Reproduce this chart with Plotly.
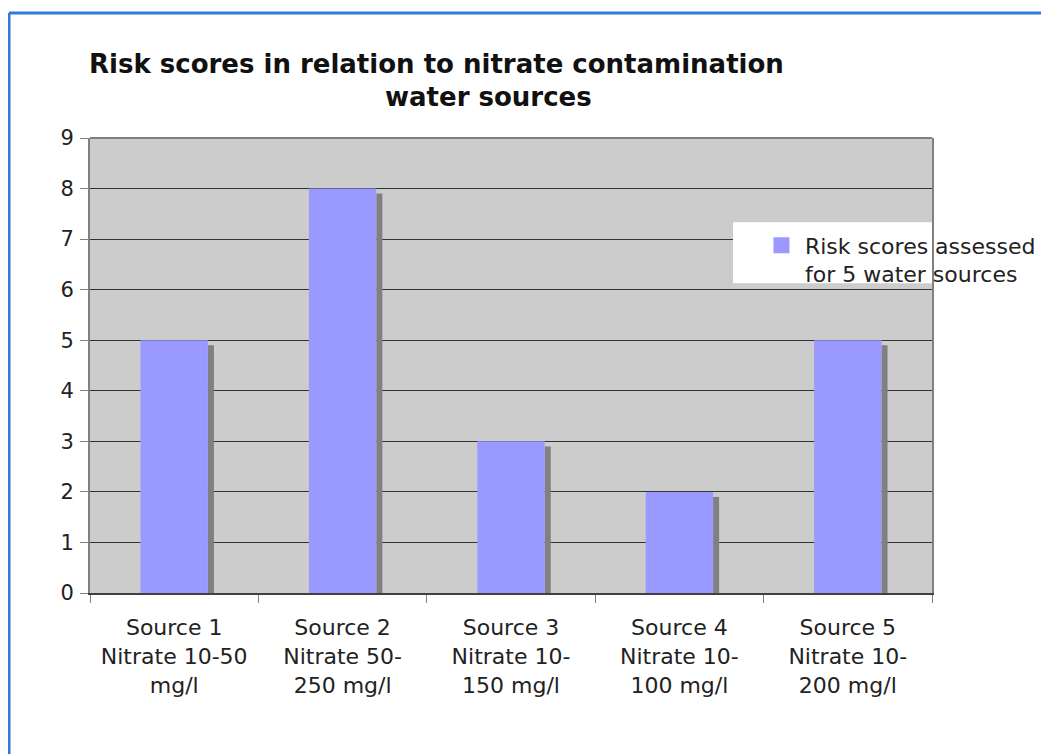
import plotly.graph_objects as go

categories = [
    "Source 1<br>Nitrate 10-50<br>mg/l",
    "Source 2<br>Nitrate 50-<br>250 mg/l",
    "Source 3<br>Nitrate 10-<br>150 mg/l",
    "Source 4<br>Nitrate 10-<br>100 mg/l",
    "Source 5<br>Nitrate 10-<br>200 mg/l",
]
risk_scores = [5, 8, 3, 2, 5]
series_name = "Risk scores assessed<br>for 5 water sources"
title_line1 = "Risk scores in relation to nitrate contamination"
title_line2 = "water sources"

FONT = "Verdana, DejaVu Sans, sans-serif"
BAR_COLOR = "#9999FF"
shadow_drop = 0.1

fig = go.Figure()
# shadow
fig.add_trace(go.Bar(
    x=categories, y=[v - shadow_drop for v in risk_scores],
    width=0.036, offset=0.2,
    marker=dict(color="#808080", line=dict(width=0)),
    showlegend=False, hoverinfo="skip",
))
fig.add_trace(go.Bar(
    x=categories, y=risk_scores, name=series_name,
    width=0.4, offset=-0.2,
    marker=dict(color=BAR_COLOR, line=dict(width=0)),
    showlegend=False,
))
# legend entry (square swatch)
fig.add_trace(go.Scatter(
    x=[None], y=[None], mode="markers", name=series_name,
    marker=dict(symbol="square", size=16, color=BAR_COLOR),
    showlegend=True, hoverinfo="skip",
))

fig.update_layout(
    width=1049, height=754,
    margin=dict(l=82, r=125, t=130, b=169),
    paper_bgcolor="white",
    plot_bgcolor="#CCCCCC",
    barmode="overlay",
    font=dict(family=FONT, color="#222222"),
    showlegend=True,
    legend=dict(
        x=0.7933, y=0.81, xanchor="left", yanchor="top",
        bgcolor="rgba(0,0,0,0)", borderwidth=0, valign="top",
        itemwidth=37,
        font=dict(size=22, family=FONT, color="#222222"),
    ),
    annotations=[
        dict(text="<b>" + title_line1 + "</b>", xref="paper", yref="paper",
             x=0.412, y=1.163, xanchor="center", yanchor="middle",
             showarrow=False, font=dict(size=26, family=FONT, color="#111111")),
        dict(text="<b>" + title_line2 + "</b>", xref="paper", yref="paper",
             x=0.473, y=1.090, xanchor="center", yanchor="middle",
             showarrow=False, font=dict(size=26, family=FONT, color="#111111")),
    ],
    shapes=[
        dict(type="line", xref="paper", yref="paper", x0=-0.0962, x1=1.16,
             y0=1.2747, y1=1.2747, line=dict(color="#2E7BD9", width=3)),
        dict(type="line", xref="paper", yref="paper", x0=-0.0962, x1=-0.0962,
             y0=1.2747, y1=-0.40, line=dict(color="#2E7BD9", width=3)),
        dict(type="line", xref="paper", yref="paper", x0=0, x1=1,
             y0=1, y1=1, line=dict(color="#808080", width=2)),
        dict(type="rect", xref="paper", yref="paper", x0=0.7637, x1=1.0,
             y0=0.681, y1=0.815, fillcolor="white", line=dict(width=0),
             layer="above"),
    ],
)

fig.update_xaxes(
    showline=True, linecolor="#404040", linewidth=2,
    ticks="outside", tickson="boundaries", ticklen=8, tickcolor="#808080",
    tickfont=dict(size=22, family=FONT, color="#222222"),
    ticklabelstandoff=14,
    showgrid=False,
)
fig.update_yaxes(
    range=[0, 9], dtick=1,
    showline=True, mirror=True, linecolor="#808080", linewidth=2,
    ticks="outside", ticklen=8, tickcolor="#808080",
    tickfont=dict(size=21, family=FONT, color="#222222"),
    ticklabelstandoff=2,
    showgrid=True, gridcolor="#333333", gridwidth=1,
    zeroline=False,
)

fig.write_html("out.html")
